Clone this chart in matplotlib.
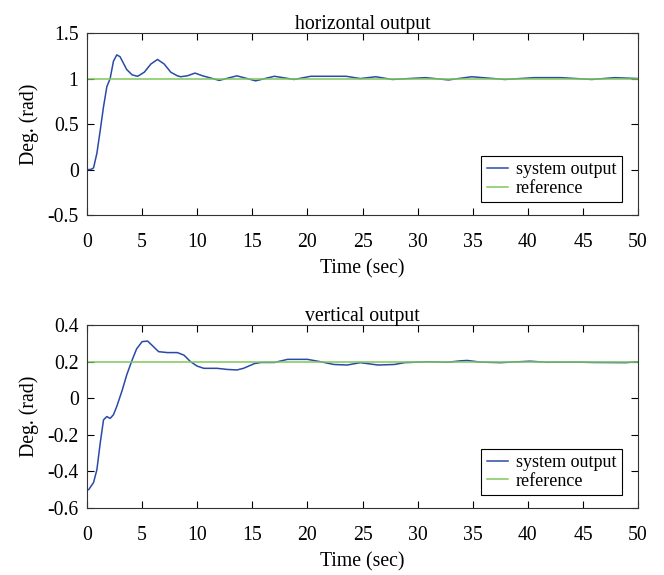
import numpy as np
import matplotlib
matplotlib.use('Agg')
import matplotlib.pyplot as plt

plt.rcParams['font.family'] = ['Liberation Serif', 'DejaVu Serif']
plt.rcParams['font.size'] = 14.2

# horizontal output
t_h = [0, 0.3, 0.5, 0.6, 0.9, 1.2, 1.5, 1.8, 2.1, 2.4, 2.7, 3.0, 3.3, 3.6, 4.1, 4.6,
       5.2, 5.8, 6.4, 7.0, 7.6, 8.2, 8.5, 9.1, 9.8, 10.5, 12.0, 13.6, 15.3, 17.0, 18.8,
       20.3, 23.5, 24.8, 26.2, 27.7, 30.7, 32.8, 34.9, 37.9, 40.6, 43.0, 45.8, 47.9, 50]
y_h = [0, 0, 0.01, 0.02, 0.18, 0.43, 0.69, 0.91, 1.0, 1.19, 1.26, 1.24, 1.17, 1.1, 1.04, 1.025,
       1.07, 1.16, 1.21, 1.16, 1.07, 1.03, 1.02, 1.03, 1.06, 1.03, 0.98, 1.03, 0.975, 1.025, 0.99,
       1.025, 1.025, 1.0, 1.02, 0.99, 1.01, 0.985, 1.02, 0.99, 1.01, 1.01, 0.99, 1.01, 1.0]

# vertical output
t_v = [0, 0.15, 0.6, 0.9, 1.2, 1.5, 1.8, 2.1, 2.4, 2.7, 3.2, 3.6, 4.1, 4.5, 5.0, 5.5,
       5.9, 6.5, 7.3, 8.2, 8.8, 9.4, 10.0, 10.6, 11.8, 12.7, 13.6, 14.2, 15.2, 15.8, 17.0,
       18.2, 20.0, 21.2, 22.4, 23.6, 24.8, 26.4, 27.9, 28.8, 30.9, 32.7, 33.9, 34.5, 35.7,
       37.5, 40.2, 41.7, 44.4, 45.9, 48.9, 50]
y_v = [-0.5, -0.5, -0.46, -0.39, -0.245, -0.118, -0.1, -0.11, -0.09, -0.045, 0.045, 0.127,
       0.21, 0.27, 0.31, 0.313, 0.29, 0.255, 0.25, 0.25, 0.236, 0.2, 0.176, 0.164, 0.164,
       0.158, 0.155, 0.164, 0.19, 0.196, 0.196, 0.213, 0.213, 0.2, 0.185, 0.182, 0.195,
       0.182, 0.185, 0.195, 0.2, 0.197, 0.205, 0.207, 0.198, 0.195, 0.203, 0.197, 0.198,
       0.196, 0.195, 0.2]

ref_h = 1.0
ref_v = 0.2

blue = '#2b4aa8'
green = '#7fc85c'

fig = plt.figure(figsize=(6.64, 5.75), dpi=100)
ax1 = fig.add_axes([0.131, 0.626, 0.830, 0.3165])
ax2 = fig.add_axes([0.131, 0.1165, 0.830, 0.318])

panels = [
    (ax1, t_h, y_h, ref_h, 'horizontal output', (-0.5, 1.5), np.arange(-0.5, 1.51, 0.5),
     ['-0.5', '0', '0.5', '1', '1.5']),
    (ax2, t_v, y_v, ref_v, 'vertical output', (-0.6, 0.4), np.arange(-0.6, 0.41, 0.2),
     ['-0.6', '-0.4', '-0.2', '0', '0.2', '0.4']),
]

for ax, t, y, ref, title, ylim, yt, ytl in panels:
    ax.plot(t, y, color=blue, lw=1.1, label='system output')
    ax.plot([0, 50], [ref, ref], color=green, lw=1.1, label='reference')
    ax.set_xlim(0, 50)
    ax.set_ylim(*ylim)
    ax.set_xticks(np.arange(0, 51, 5))
    ax.set_yticks(yt)
    ax.set_yticklabels(ytl)
    ax.tick_params(direction='in', top=True, right=True, length=5, width=0.8)
    ax.tick_params(axis='x', pad=13)
    ax.tick_params(axis='y', pad=6)
    for s in ax.spines.values():
        s.set_linewidth(0.8)
        s.set_color('#333333')
    ax.set_title(title, fontsize=14.2, pad=3)
    ax.set_xlabel('Time (sec)', labelpad=5)
    ax.set_ylabel('Deg. (rad)', labelpad=6)
    leg = ax.legend(loc='lower right', bbox_to_anchor=(0.97, 0.07), fancybox=False,
                    framealpha=1, edgecolor='black', fontsize=13, handlelength=1.15,
                    handletextpad=0.45, borderpad=0.3, labelspacing=0.1, borderaxespad=0)
    leg.get_frame().set_linewidth(0.8)

fig.savefig('out.png', dpi=100)
